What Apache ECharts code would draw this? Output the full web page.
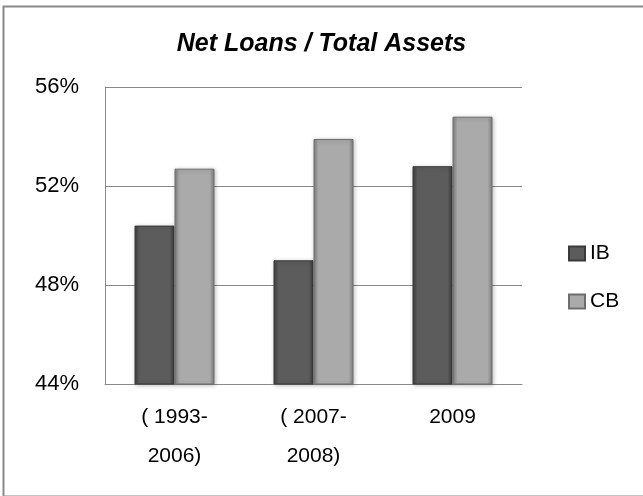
<!DOCTYPE html>
<html>
<head>
<meta charset="utf-8">
<script src="https://cdn.jsdelivr.net/npm/echarts@6/dist/echarts.min.js"></script>
<style>
  html, body { margin: 0; padding: 0; background: #ffffff; }
  #chart { width: 643px; height: 496px; }
</style>
</head>
<body>
<div id="chart"></div>
<script>
// Net loans as a share of total assets, by period
const periods = ['( 1993-\n2006)', '( 2007-\n2008)', '2009'];
const ibValues = [50.4, 49.0, 52.8];
const cbValues = [52.7, 53.9, 54.8];
const yTicks = { min: 44, max: 56, step: 4 };

const FONT = 'Liberation Sans, Arial, sans-serif';

// Rounded-cylinder look: darker edges, lighter centre
function shade(edge, mid) {
  return new echarts.graphic.LinearGradient(0, 0, 1, 0, [
    { offset: 0, color: edge },
    { offset: 0.12, color: mid },
    { offset: 0.88, color: mid },
    { offset: 1, color: edge }
  ]);
}

const chart = echarts.init(document.getElementById('chart'), null, { renderer: 'canvas' });

chart.setOption({
  animation: false,
  backgroundColor: '#ffffff',
  title: {
    text: 'Net Loans / Total Assets',
    left: 'center',
    top: 27,
    textStyle: {
      fontFamily: FONT,
      fontSize: 25,
      fontWeight: 'bold',
      fontStyle: 'italic',
      color: '#000000'
    }
  },
  graphic: [{
    type: 'rect',
    left: 1,
    top: 4,
    shape: { width: 660, height: 490 },
    style: { fill: 'none', stroke: '#8a8a8a', lineWidth: 2 },
    silent: true
  }],
  legend: {
    orient: 'vertical',
    left: 563,
    top: 238,
    icon: 'rect',
    itemWidth: 16,
    itemHeight: 14,
    itemGap: 27,
    textStyle: { fontFamily: FONT, fontSize: 21, color: '#000000' },
    data: ['IB', 'CB']
  },
  grid: { left: 105, right: 121, top: 87, bottom: 112 },
  xAxis: {
    type: 'category',
    data: periods,
    axisLine: { show: true, lineStyle: { color: '#8a8a8a', width: 1 } },
    axisTick: { show: false },
    axisLabel: {
      fontFamily: FONT,
      fontSize: 21,
      color: '#000000',
      lineHeight: 39,
      margin: 14,
      interval: 0
    }
  },
  yAxis: {
    type: 'value',
    min: yTicks.min,
    max: yTicks.max,
    interval: yTicks.step,
    axisLine: { show: true, lineStyle: { color: '#8a8a8a', width: 1 } },
    axisTick: { show: false },
    splitLine: { show: true, lineStyle: { color: '#8a8a8a', width: 1 } },
    axisLabel: {
      fontFamily: FONT,
      fontSize: 22,
      color: '#000000',
      margin: 26,
      formatter: v => v + '%'
    }
  },
  series: [
    {
      name: 'IB',
      type: 'bar',
      data: ibValues,
      barWidth: 40,
      barGap: '0%',
      itemStyle: {
        color: shade('#3c3c3c', '#5c5c5c'),
        borderColor: '#3a3a3a',
        borderWidth: 1,
        shadowColor: 'rgba(0,0,0,0.25)',
        shadowBlur: 4,
        shadowOffsetX: 1,
        shadowOffsetY: 1
      }
    },
    {
      name: 'CB',
      type: 'bar',
      data: cbValues,
      barWidth: 40,
      barGap: '0%',
      itemStyle: {
        color: shade('#7c7c7c', '#aaaaaa'),
        borderColor: '#6e6e6e',
        borderWidth: 1,
        shadowColor: 'rgba(0,0,0,0.25)',
        shadowBlur: 4,
        shadowOffsetX: 1,
        shadowOffsetY: 1
      }
    }
  ]
});
</script>
</body>
</html>
